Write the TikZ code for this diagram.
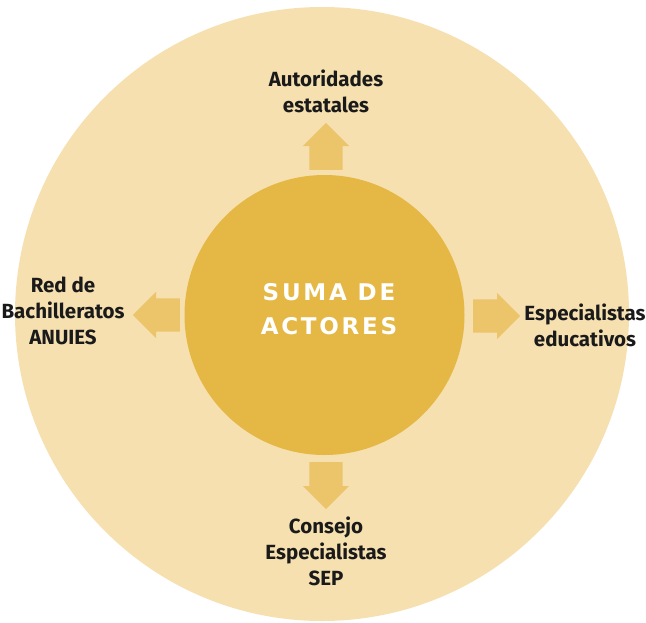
\documentclass[tikz,border=0pt]{standalone}
\usepackage{fontspec}
\setmainfont{Fira Sans}
\newfontfamily\hubfont{DejaVu Sans}
\usetikzlibrary{shapes.arrows}
\definecolor{ringfill}{HTML}{F6E0B0}
\definecolor{hubfill}{HTML}{E5B846}
\definecolor{arrowfill}{HTML}{ECC56B}
\definecolor{labeltext}{HTML}{1A1A1A}
\begin{document}
\begin{tikzpicture}[x=1pt,y=-1pt,
    ring/.style ={circle, fill=ringfill, inner sep = 0pt, minimum size=614pt},
    hub/.style ={circle, fill=hubfill, inner sep = 0pt, minimum size=280pt},
    blockarrow/.style ={single arrow, fill=arrowfill, inner xsep=0pt, inner ysep=16.5pt,
      single arrow head extend=6.5pt, single arrow head indent=0pt, minimum height=47pt},
    actor/.style ={align=center, inner sep=0pt, text=labeltext,
      font=\bfseries\fontsize{20.5}{26}\selectfont}]
   \useasboundingbox (0,0) rectangle (646,622);
   \node[ring] (R) at (322,314) {};
   \node[hub] (H) at (324.5,315) {};
   \node[align=center, inner sep=0pt, text=white,
     font=\hubfont\bfseries\fontsize{23}{34}\selectfont\addfontfeatures{LetterSpace=12}]
     (T) at (329,309) {SUMA DE\\ACTORES};
   \node[blockarrow, rotate=90, anchor=tail] (up) at (326,170) {};
   \node[blockarrow, rotate=180, anchor=tail] (left) at (180,315) {};
   \node[blockarrow, anchor=tail] (right) at (473,316) {};
   \node[blockarrow, rotate=270, anchor=tail] (down) at (326,462) {};
   \node[actor] (A) at (326,91) {Autoridades\\estatales};
   \node[actor] (B) at (63,311) {Red de\\Bachilleratos\\ANUIES};
   \node[actor] (C) at (585,325) {Especialistas\\educativos};
   \node[actor] (D) at (326,551) {Consejo\\Especialistas\\SEP};
 \end{tikzpicture}
\end{document}
